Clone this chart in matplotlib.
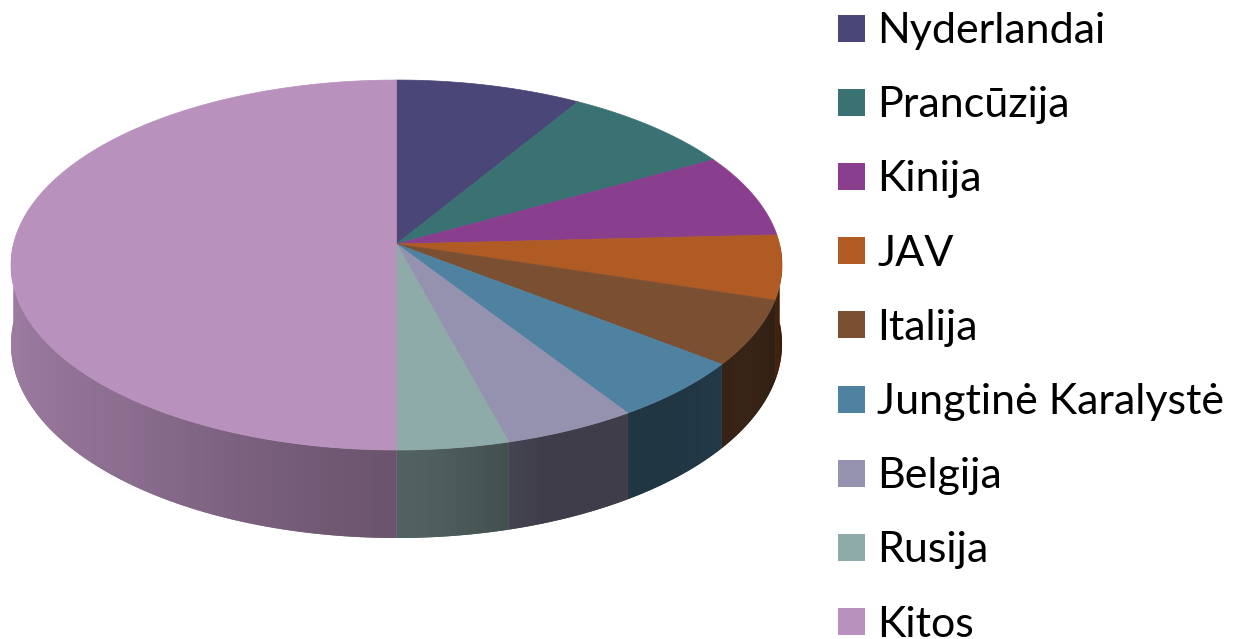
import numpy as np
import matplotlib.pyplot as plt
from matplotlib.patches import Polygon, Rectangle
from matplotlib.colors import to_rgb

# data (shares in %, clockwise from 12 o'clock)
labels = ['Nyderlandai', 'Prancūzija', 'Kinija', 'JAV', 'Italija',
          'Jungtinė Karalystė', 'Belgija', 'Rusija', 'Kitos']
shares = [8.7, 8.2, 7.3, 5.6, 5.7, 5.3, 5.0, 4.2, 50.0]
colors = ['#4a4677', '#3a7273', '#8a3f8e', '#b05a24', '#7b5032',
          '#4f81a1', '#9592b0', '#8eaaa9', '#b891bd']

W, H = 1233, 639
fig = plt.figure(figsize=(W / 100, H / 100), dpi=100)
ax = fig.add_axes([0, 0, 1, 1])
ax.set_xlim(0, W)
ax.set_ylim(H, 0)
ax.axis('off')

# simple perspective projection of the pie disc
cx, cy, A, B, k, depth = 396.5, 244.0, 383.0, 182.6, 0.1136, 78.0


def proj(theta, z=0.0):
    X, Y = np.cos(theta), np.sin(theta)
    w = 1 + k * Y
    return cx + A * X / w, cy - B * Y / w + depth * z / w


# side shading vs angle (degrees, front half only)
shade_ang = [180, 200, 230, 260, 275, 290, 310, 330, 350, 360]
shade_val = [0.86, 0.84, 0.76, 0.62, 0.56, 0.42, 0.42, 0.46, 0.36, 0.30]

# column -> angle lookup for the front wall
ang_grid = np.linspace(180, 360, 2000)
x_grid, _ = proj(np.radians(ang_grid), 0)
cols_x = np.arange(0, 800) + 0.5
ang_cols = np.interp(cols_x, x_grid, ang_grid)
shade_cols = np.interp(ang_cols, shade_ang, shade_val)

edges = 90 - 360 * np.concatenate([[0], np.cumsum(shares)]) / 100.0

# side walls (visible front half: 180..360 deg)
for i, c in enumerate(colors):
    t0, t1 = edges[i + 1], edges[i]
    a, b = np.mod(t0, 360), np.mod(t1, 360)
    if b <= a:
        b += 360
    lo, hi = max(a, 180), min(b, 360)
    if hi <= lo:
        continue
    s = np.radians(np.linspace(lo, hi, 200))
    ux, uy = proj(s, 0)
    bx, by = proj(s, 1)
    pts = np.column_stack([np.r_[ux, bx[::-1]], np.r_[uy, by[::-1]]])
    base = np.array(to_rgb(c))
    mid = np.interp(0.5 * (lo + hi), shade_ang, shade_val)
    poly = Polygon(pts, closed=True, facecolor=base * mid,
                   edgecolor='none')
    ax.add_patch(poly)
    img = np.clip(base[None, None, :] * shade_cols[None, :, None], 0, 1)
    im = ax.imshow(img, extent=(0, 800, 0, H), aspect='auto',
                   interpolation='bilinear', zorder=1)
    im.set_clip_path(poly)

# top wedges
for i, c in enumerate(colors):
    tt = np.radians(np.linspace(edges[i], edges[i + 1], 200))
    ux, uy = proj(tt, 0)
    pts = np.column_stack([np.r_[cx, ux], np.r_[cy, uy]])
    ax.add_patch(Polygon(pts, closed=True, facecolor=c, edgecolor=c,
                         linewidth=0.5, zorder=2))

ax.set_xlim(0, W)
ax.set_ylim(H, 0)

# legend
for i, (lab, c) in enumerate(zip(labels, colors)):
    yc = 28 + 74.2 * i
    ax.add_patch(Rectangle((838, yc - 13.5), 27, 27, facecolor=c,
                           edgecolor='none', zorder=3))
    ax.text(877, yc + 15, lab, fontsize=31, family='Lato',
            va='baseline', ha='left', color='black', zorder=3)

fig.savefig('out.png', dpi=100)
